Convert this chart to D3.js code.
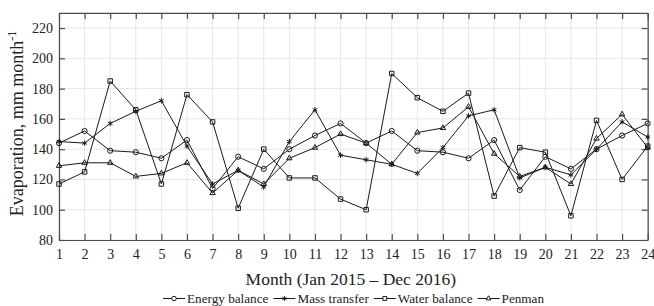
<!DOCTYPE html>
<html><head><meta charset="utf-8">
<script src="https://cdn.jsdelivr.net/npm/d3@7"></script>
<style>body{margin:0;background:#fff}svg{display:block}</style>
</head><body><svg id="c" width="654" height="306" font-family="Liberation Serif"></svg>
<script>
const FONT = "Liberation Serif";
const months = d3.range(1, 25);
const xTicks = d3.range(1, 25);
const yTicks = [80, 100, 120, 140, 160, 180, 200, 220];
const energyBalance = [144,152,139,138,134,146,114,135,127,140,149,157,144,152,139,138,134,146,113,135,127,140,149,157];
const massTransfer  = [145,144,157,165,172,142,117,126,115,145,166,136,133,130,124,141,162,166,121,128,123,140,158,148];
const waterBalance  = [117,125,185,166,117,176,158,101,140,121,121,107,100,190,174,165,177,109,141,138,96,159,120,142];
const penman        = [129,131,131,122,124,131,111,126,117,134,141,150,144,130,151,154,168,137,122,128,117,147,163,141];
const seriesNames = ["Energy balance","Mass transfer","Water balance","Penman"];

const series = [
  {name: seriesNames[0], values: energyBalance, sym: d3.symbolCircle, size: 21},
  {name: seriesNames[1], values: massTransfer, sym: d3.symbolAsterisk, size: 20},
  {name: seriesNames[2], values: waterBalance, sym: d3.symbolSquare, size: 20},
  {name: seriesNames[3], values: penman, sym: d3.symbolTriangle2, size: 21}
];

const svg = d3.select("#c");
const L = 59, R = 647.7, T = 12.9, B = 240;
const x = d3.scaleLinear().domain([1, 24]).range([L, R]);
const y = d3.scaleLinear().domain([80, 230]).range([B, T]);

// grid
const g = svg.append("g");
g.selectAll("line.vg").data(xTicks).join("line")
  .attr("x1", d => x(d)).attr("x2", d => x(d)).attr("y1", T).attr("y2", B)
  .attr("stroke", "#e6e6e6").attr("stroke-width", 1);
g.selectAll("line.hg").data(yTicks).join("line")
  .attr("x1", L).attr("x2", R).attr("y1", d => y(d)).attr("y2", d => y(d))
  .attr("stroke", "#e6e6e6").attr("stroke-width", 1);

// axes
const axCol = "#4d4d4d";
const xb = svg.append("g").attr("transform", `translate(0,${B})`)
  .call(d3.axisBottom(x).tickValues(xTicks).tickSizeInner(-6).tickSizeOuter(0).tickPadding(9).tickFormat(d3.format("d")));
const xt = svg.append("g").attr("transform", `translate(0,${T})`)
  .call(d3.axisTop(x).tickValues(xTicks).tickSizeInner(-6).tickSizeOuter(0).tickFormat(""));
const yl = svg.append("g").attr("transform", `translate(${L},0)`)
  .call(d3.axisLeft(y).tickValues(yTicks).tickSizeInner(-6).tickSizeOuter(0).tickPadding(6));
const yr = svg.append("g").attr("transform", `translate(${R},0)`)
  .call(d3.axisRight(y).tickValues(yTicks).tickSizeInner(-6).tickSizeOuter(0).tickFormat(""));
[xb, xt, yl, yr].forEach(a => {
  a.attr("font-family", FONT).attr("font-size", 14);
  a.select(".domain").attr("stroke", axCol).attr("stroke-width", 1.2);
  a.selectAll(".tick line").attr("stroke", axCol).attr("stroke-width", 1.2);
  a.selectAll("text").attr("font-family", FONT).attr("font-size", 14).attr("fill", "#222");
});

// lines and markers
const line = d3.line().x((d, i) => x(months[i])).y(d => y(d));
const sg = svg.append("g");
series.forEach(s => {
  sg.append("path").attr("d", line(s.values)).attr("fill", "none")
    .attr("stroke", "#1a1a1a").attr("stroke-width", 1);
});
series.forEach(s => {
  sg.selectAll(null).data(s.values).join("path")
    .attr("transform", (d, i) => `translate(${x(months[i])},${y(d)})`)
    .attr("d", d3.symbol().type(s.sym).size(s.size))
    .attr("fill", "none").attr("stroke", "#1a1a1a").attr("stroke-width", 1);
});

// axis titles
svg.append("text").attr("x", (L + R) / 2 - 2.5).attr("y", 285).attr("text-anchor", "middle")
  .attr("font-family", FONT).attr("font-size", 17.5).attr("fill", "#222").text("Month (Jan 2015 \u2013 Dec 2016)");
const yt = svg.append("text").attr("transform", `translate(23,${(T + B) / 2 - 3}) rotate(-90)`)
  .attr("text-anchor", "middle").attr("font-family", FONT).attr("font-size", 18).attr("fill", "#222");
yt.append("tspan").text("Evaporation, mm month");
yt.append("tspan").attr("font-size", 12).attr("dy", -7).text("-1");

// legend
const lg = svg.append("g");
const ly = 298.5;
const items = [];
series.forEach(s => {
  const it = lg.append("g");
  it.append("line").attr("x1", 0).attr("x2", 22).attr("y1", 0).attr("y2", 0).attr("stroke", "#1a1a1a").attr("stroke-width", 1);
  it.append("path").attr("transform", "translate(11,0)").attr("d", d3.symbol().type(s.sym).size(s.size * 0.75))
    .attr("fill", "#fff").attr("stroke", "#1a1a1a").attr("stroke-width", 1);
  const t = it.append("text").attr("x", 24).attr("y", 4.2).attr("font-family", FONT).attr("font-size", 13.2)
    .attr("fill", "#222").text(s.name);
  items.push({it, t});
});
function layoutLegend() {
  const gap = 5;
  let start = 163;
  items.forEach(d => {
    const w = 24 + d.t.node().getComputedTextLength();
    d.it.attr("transform", `translate(${start},${ly})`); start += w + gap;
  });
}
layoutLegend();
if (document.fonts && document.fonts.ready) document.fonts.ready.then(layoutLegend);
</script></body></html>
